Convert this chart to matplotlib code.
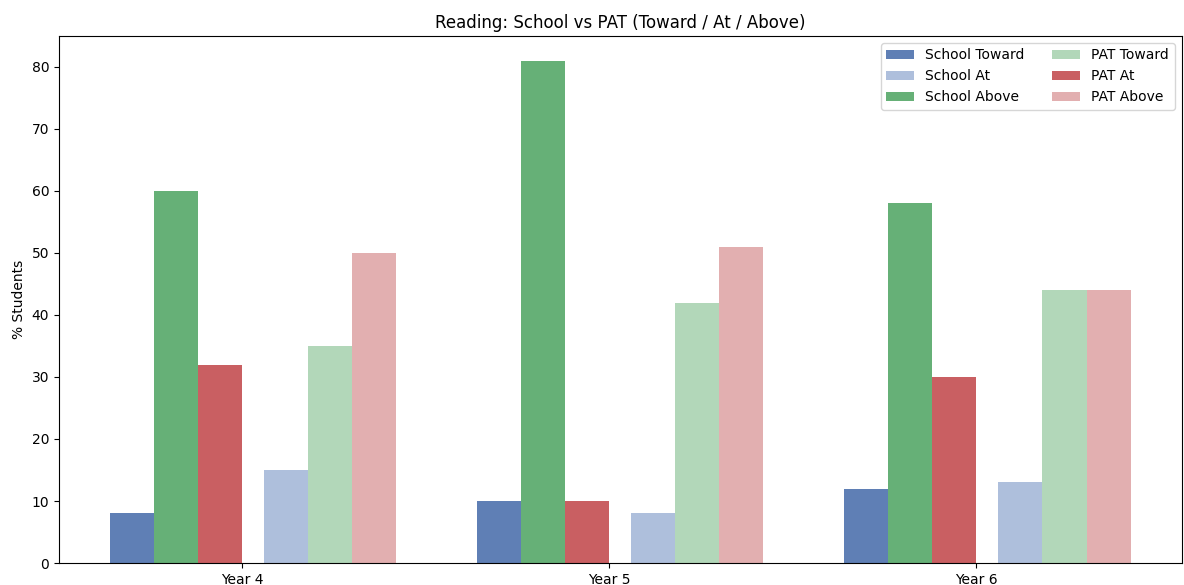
import matplotlib.pyplot as plt
import numpy as np

# Reading results per year group
years = ['Year 4', 'Year 5', 'Year 6']
series_names = ['School Toward', 'School Above', 'PAT At',
                'School At', 'PAT Toward', 'PAT Above']
school_toward = [8, 10, 12]
school_above = [60, 81, 58]
pat_at = [32, 10, 30]
school_at = [15, 8, 13]
pat_toward = [35, 42, 44]
pat_above = [50, 51, 44]

colors = ['#5f7fb5', '#66b077', '#c95f62', '#aebfdc', '#b2d7b9', '#e2afb0']
# slot offsets in bar widths (left cluster / right cluster)
offsets = [-2.5, -1.5, -0.5, 1.0, 2.0, 3.0]
width = 0.12

fig, ax = plt.subplots(figsize=(11.84, 5.85), dpi=100)
x = np.arange(len(years))
all_series = [school_toward, school_above, pat_at, school_at, pat_toward, pat_above]
bars = {}
for name, vals, col, off in zip(series_names, all_series, colors, offsets):
    bars[name] = ax.bar(x + off * width, vals, width, color=col, label=name)

ax.set_xticks(x)
ax.set_xticklabels(years)
ax.set_ylim(0, 85)
ax.set_ylabel('% Students')
ax.set_title('Reading: School vs PAT (Toward / At / Above)')

legend_order = ['School Toward', 'School At', 'School Above',
                'PAT Toward', 'PAT At', 'PAT Above']
ax.legend([bars[n] for n in legend_order], legend_order, loc='upper right', ncol=2)

plt.subplots_adjust(left=0.0498, right=0.998, top=0.9385, bottom=0.0376)
plt.savefig('out.png')
